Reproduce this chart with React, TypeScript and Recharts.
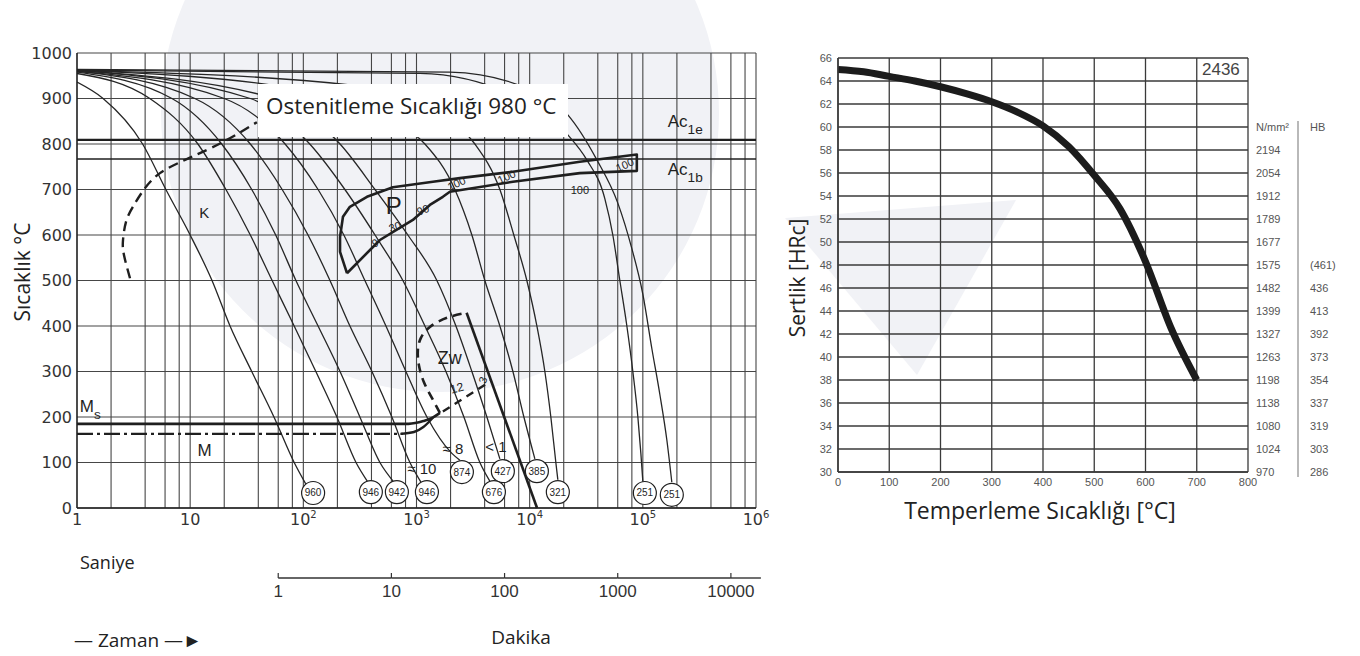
import React from "react";
import {
  ComposedChart,
  LineChart,
  Line,
  Scatter,
  XAxis,
  YAxis,
  CartesianGrid,
  ReferenceLine,
} from "recharts";

type Pt = { t: number; T: number };
const pts = (rows: number[][]): Pt[] => rows.map(([t, T]) => ({ t, T }));

// cooling curves, time [s] vs temperature [°C], named after the hardness at the end
const cool960 = pts([[1, 936], [1.7, 900], [3.8, 800], [6.1, 700], [10, 600], [15.6, 500], [22.5, 400], [35, 300], [55, 200], [83, 100], [105, 53]]);
const cool946a = pts([[1, 955], [4.4, 900], [11.7, 800], [20.7, 700], [34, 600], [53, 500], [83, 400], [129, 300], [198, 200], [292, 100], [372, 57]]);
const cool942 = pts([[1, 958], [6.9, 900], [19, 800], [35, 700], [57, 600], [86, 500], [135, 400], [211, 300], [316, 200], [475, 100], [631, 57]]);
const cool946b = pts([[1, 960], [11, 900], [34, 800], [65, 700], [110, 600], [172, 500], [258, 400], [404, 300], [606, 200], [875, 100], [1094, 57]]);
const cool874 = pts([[1, 960], [20, 900], [69, 800], [135, 700], [228, 600], [350, 500], [537, 400], [806, 300], [1236, 200], [2054, 120], [2417, 105]]);
const cool676 = pts([[1, 962], [34, 900], [114, 800], [233, 700], [430, 600], [758, 500], [1187, 400], [1820, 300], [2624, 200], [3631, 100], [4446, 59]]);
const cool427 = pts([[1, 962], [56, 900], [211, 800], [430, 700], [839, 600], [1514, 500], [2230, 400], [3086, 300], [4188, 200], [5454, 108]]);
const cool385 = pts([[1, 962], [93, 920], [582, 850], [1187, 800], [2183, 700], [3086, 600], [4018, 500], [5454, 400], [7112, 300], [8892, 200], [11117, 108]]);
const cool321 = pts([[1, 962], [258, 930], [1610, 860], [3281, 800], [5454, 700], [7244, 600], [9441, 500], [11584, 400], [13622, 300], [15387, 200], [17033, 100], [17740, 62]]);
const cool251a = pts([[1, 962], [1072, 955], [8187, 900], [21740, 820], [31990, 765], [46140, 680], [54300, 600], [62630, 500], [72250, 400], [81600, 300], [90380, 200], [96080, 120], [100000, 59]]);
const cool251b = pts([[1, 964], [1972, 958], [10040, 920], [21740, 864], [39260, 765], [60120, 670], [79980, 570], [100000, 470], [120200, 350], [141300, 250], [162900, 150], [180300, 57]]);
const coolingCurves = [cool960, cool946a, cool942, cool946b, cool874, cool676, cool427, cool385, cool321, cool251a, cool251b];

// transformation lines
const carbideStart = pts([[2.94, 505], [2.6, 556], [2.55, 589], [2.71, 629], [3.12, 662], [3.99, 703], [5.41, 736], [8.13, 760], [12.2, 780], [21.1, 809], [38.9, 848]]);
const pearlite = pts([[243, 516], [211, 563], [211, 596], [224, 640], [258, 662], [365, 684], [619, 705], [1396, 717], [2417, 725], [7112, 739], [27750, 761], [88500, 777], [88500, 741], [27750, 736], [7112, 717], [1972, 695], [1710, 684], [1313, 666], [929, 633], [475, 589], [243, 516]]);
const bainiteStart = pts([[1610, 209], [1368, 242], [1161, 277], [1050, 314], [1028, 347], [1094, 374], [1313, 398], [1857, 418], [2772, 429]]);
const bainiteEnd = pts([[2772, 429], [11620, 0]]);
const bainiteLow = pts([[1710, 212], [4600, 280]]);
const msLine = pts([[1, 185], [850, 185], [1150, 191], [1400, 199], [1610, 209]]);
const mLine = pts([[1, 163], [760, 163]]);
const mKnee = pts([[720, 163], [950, 167], [1150, 178], [1400, 199]]);
const ac1e = 809;
const ac1b = 767;

// hardness (HV) at the end of each cooling curve
const endHardness = ["960", "946", "942", "946", "874", "427", "676", "385", "321", "251", "251"];
const endTimes = [122, 395, 671, 1236, 2518, 5795, 4830, 11580, 17740, 104200, 180300];
const endTemps = [33, 35, 35, 35, 79, 81, 35, 81, 35, 33, 29];
const endRows = endHardness.map((v, i) => ({ t: endTimes[i], T: endTemps[i], v }));

type Note = { t: number; T: number; text: string; size: number; sub?: string; angle?: number; anchor?: "start" | "middle" };
const notes: Note[] = [
  { t: 13.3, T: 649, text: "K", size: 15 },
  { t: 631, T: 664, text: "P", size: 24 },
  { t: 645, T: 618, text: "30", size: 11, angle: -20 },
  { t: 430, T: 582, text: "9", size: 11, angle: -20 },
  { t: 1140, T: 655, text: "90", size: 11, angle: -20 },
  { t: 2260, T: 713, text: "100", size: 11, angle: -25 },
  { t: 6250, T: 728, text: "100", size: 11, angle: -25 },
  { t: 27750, T: 699, text: "100", size: 11 },
  { t: 69300, T: 754, text: "100", size: 11, angle: -25 },
  { t: 1972, T: 331, text: "Zw", size: 18 },
  { t: 2275, T: 264, text: "12", size: 12, angle: -15 },
  { t: 3860, T: 281, text: "3", size: 11, angle: -70 },
  { t: 2098, T: 130, text: "≈ 8", size: 15 },
  { t: 1116, T: 86, text: "≈ 10", size: 15 },
  { t: 5025, T: 134, text: "< 1", size: 15 },
  { t: 1.06, T: 224, text: "M", sub: "s", size: 17, anchor: "start" },
  { t: 13.4, T: 127, text: "M", size: 17 },
  { t: 166000, T: 850, text: "Ac", sub: "1e", size: 17, anchor: "start" },
  { t: 166000, T: 745, text: "Ac", sub: "1b", size: 17, anchor: "start" },
];

const secondTicks = [1, 10, 100, 1e3, 1e4, 1e5, 1e6];
const minuteTicks = [60, 600, 6000, 60000, 600000];
const minuteLabels = ["1", "10", "100", "1000", "10000"];
const tempTicks = [0, 100, 200, 300, 400, 500, 600, 700, 800, 900, 1000];
const gridTimes = [
  2, 4, 6, 8, 10, 20, 40, 60, 80, 100, 200, 400, 600, 800, 1e3, 2e3, 4e3, 6e3, 8e3,
  1e4, 2e4, 4e4, 6e4, 8e4, 1e5, 2e5, 4e5, 6e5, 8e5, 1e6,
];

// tempering curve
const temperTemps = [0, 50, 100, 150, 200, 250, 300, 350, 400, 450, 500, 550, 600, 650, 700];
const temperHrc = [65.0, 64.8, 64.4, 64.0, 63.5, 62.9, 62.2, 61.3, 60.1, 58.3, 55.8, 52.9, 48.3, 42.5, 38.0];
const temperRows = temperTemps.map((temp, i) => ({ temp, hrc: temperHrc[i] }));
const temperTicks = [0, 100, 200, 300, 400, 500, 600, 700, 800];
const hrcTicks = [30, 32, 34, 36, 38, 40, 42, 44, 46, 48, 50, 52, 54, 56, 58, 60, 62, 64, 66];
const tableLevels = [60, 58, 56, 54, 52, 50, 48, 46, 44, 42, 40, 38, 36, 34, 32, 30];
const strengthLabels = ["N/mm²", "2194", "2054", "1912", "1789", "1677", "1575", "1482", "1399", "1327", "1263", "1198", "1138", "1080", "1024", "970"];
const brinellLabels = ["HB", "", "", "", "", "", "(461)", "436", "413", "392", "373", "354", "337", "319", "303", "286"];

const INK = "#1f1f1f";
const GRID = "#464646";
const HAZE = "#f1f2f6";
const CCT_PLOT_W = 679;
const DECADE_PX = CCT_PLOT_W / 6;
const TEMPER_PLOT_H = 414;
const ROW_PX = (TEMPER_PLOT_H / (66 - 30)) * 2;

const SecondTick = ({ x, y, payload }: any) => {
  const v = payload.value as number;
  const exp = Math.round(Math.log10(v));
  return (
    <text x={x} y={y} dy="0.71em" textAnchor="middle" fontSize={16} fill="#333" fontFamily="DejaVu Sans">
      {exp <= 1 ? String(v) : (
        <>
          10<tspan dy={-7} fontSize={10}>{exp}</tspan>
        </>
      )}
    </text>
  );
};

const MinuteTick = ({ x, y, payload }: any) => {
  const i = minuteTicks.indexOf(payload.value);
  const len = i < minuteTicks.length - 1 ? DECADE_PX : 30;
  return (
    <g>
      <line x1={x} x2={x + len} y1={y} y2={y} stroke="#333" strokeWidth={1.4} />
      <line x1={x} x2={x} y1={y - 5} y2={y} stroke="#333" strokeWidth={1.2} />
      <text x={x} y={y + 7} dy="0.71em" textAnchor="middle" fontSize={17} fill="#333" fontFamily="Liberation Sans">
        {minuteLabels[i]}
      </text>
    </g>
  );
};

const EndCircle = ({ cx, cy, payload }: any) => (
  <g>
    <circle cx={cx} cy={cy} r={11.5} fill="#fff" stroke={INK} strokeWidth={1.2} />
    <text x={cx} y={cy} dy="0.35em" textAnchor="middle" fontSize={10} fill={INK} fontFamily="Liberation Sans Narrow, Liberation Sans">
      {payload.v}
    </text>
  </g>
);

const NoteMark = ({ cx, cy, payload }: any) => {
  const n = payload as Note;
  const rot = n.angle ? `rotate(${n.angle} ${cx} ${cy})` : undefined;
  return (
    <text x={cx} y={cy} dy="0.35em" textAnchor={n.anchor ?? "middle"} fontSize={n.size} fill={INK} fontFamily="Liberation Sans" transform={rot}>
      {n.text}
      {n.sub ? <tspan dy={n.size * 0.4} fontSize={n.size * 0.8}>{n.sub}</tspan> : null}
    </text>
  );
};

const HbTick = ({ x, y, payload }: any) => {
  const v = payload.value as number;
  const i = tableLevels.indexOf(v);
  return (
    <g>
      <line x1={x - 12} x2={x - 12} y1={v === 60 ? y - 6 : y} y2={v === 30 ? y + 5 : y + ROW_PX} stroke="#8a8a8a" strokeWidth={1.2} />
      <text x={x} y={y} dy="0.355em" textAnchor="start" fontSize={11} fill="#555" fontFamily="Liberation Sans">
        {brinellLabels[i]}
      </text>
    </g>
  );
};

const lineProps = { dot: false, activeDot: false, isAnimationActive: false, dataKey: "T" } as const;

const CctChart = () => (
  <ComposedChart width={800} height={640} margin={{ top: 53, right: 44, bottom: 22, left: 17 }}>
    <CartesianGrid vertical={false} stroke={GRID} strokeWidth={1.1} />
    {gridTimes.map((v) => (
      <ReferenceLine key={v} x={v} stroke={GRID} strokeWidth={1.1} />
    ))}
    <XAxis
      dataKey="t"
      type="number"
      scale="log"
      domain={[1, 1e6]}
      ticks={secondTicks}
      interval={0}
      allowDataOverflow
      height={70}
      tickSize={0}
      tickMargin={6}
      tickLine={false}
      axisLine={{ stroke: INK, strokeWidth: 1.6 }}
      tick={<SecondTick />}
    />
    <XAxis
      xAxisId="min"
      dataKey="t"
      type="number"
      scale="log"
      domain={[1, 1e6]}
      ticks={minuteTicks}
      interval={0}
      allowDataOverflow
      height={40}
      tickSize={0}
      tickMargin={0}
      tickLine={false}
      axisLine={false}
      tick={<MinuteTick />}
    />
    <YAxis
      dataKey="T"
      type="number"
      domain={[0, 1000]}
      ticks={tempTicks}
      interval={0}
      width={60}
      tickSize={0}
      tickMargin={5}
      tickLine={false}
      axisLine={{ stroke: INK, strokeWidth: 1.6 }}
      tick={{ fontSize: 16, fill: "#333", fontFamily: "DejaVu Sans" }}
    />
    <ReferenceLine y={ac1e} stroke={INK} strokeWidth={2.2} />
    <ReferenceLine y={ac1b} stroke={INK} strokeWidth={1.6} />
    {coolingCurves.map((c, i) => (
      <Line key={i} data={c} type="monotone" stroke="#262626" strokeWidth={1.3} {...lineProps} />
    ))}
    <Line data={carbideStart} type="natural" stroke={INK} strokeWidth={2.4} strokeDasharray="10 6" {...lineProps} />
    <Line data={pearlite} type="linear" stroke={INK} strokeWidth={2.6} strokeLinejoin="round" {...lineProps} />
    <Line data={bainiteStart} type="natural" stroke={INK} strokeWidth={2.6} strokeDasharray="9 6" {...lineProps} />
    <Line data={bainiteEnd} type="linear" stroke={INK} strokeWidth={2.6} {...lineProps} />
    <Line data={bainiteLow} type="linear" stroke={INK} strokeWidth={2.4} strokeDasharray="8 6" {...lineProps} />
    <Line data={msLine} type="monotone" stroke={INK} strokeWidth={2.6} {...lineProps} />
    <Line data={mLine} type="linear" stroke={INK} strokeWidth={2.4} strokeDasharray="16 4 3 4" {...lineProps} />
    <Line data={mKnee} type="monotone" stroke={INK} strokeWidth={2.4} {...lineProps} />
    <Scatter data={endRows} dataKey="T" shape={(p: any) => <EndCircle {...p} />} isAnimationActive={false} />
    <Scatter data={notes} dataKey="T" shape={(p: any) => <NoteMark {...p} />} isAnimationActive={false} />
  </ComposedChart>
);

const TemperChart = () => (
  <LineChart width={580} height={656} data={temperRows} margin={{ top: 58, right: 0, bottom: 144, left: 28 }}>
    <CartesianGrid stroke="#3a3a3a" strokeWidth={1.3} />
    <XAxis
      dataKey="temp"
      type="number"
      domain={[0, 800]}
      ticks={temperTicks}
      interval={0}
      height={40}
      tickSize={0}
      tickMargin={6}
      tickLine={false}
      axisLine={{ stroke: "#3a3a3a", strokeWidth: 1.5 }}
      tick={{ fontSize: 11, fill: "#555", fontFamily: "Liberation Sans" }}
    />
    <YAxis
      type="number"
      domain={[30, 66]}
      ticks={hrcTicks}
      interval={0}
      width={30}
      tickSize={0}
      tickMargin={6}
      tickLine={false}
      axisLine={{ stroke: "#3a3a3a", strokeWidth: 1.5 }}
      tick={{ fontSize: 11, fill: "#555", fontFamily: "Liberation Sans" }}
    />
    {/* strength column next to the grid, Brinell column outside it */}
    <YAxis
      yAxisId="r1"
      orientation="right"
      type="number"
      domain={[30, 66]}
      ticks={tableLevels}
      interval={0}
      allowDataOverflow
      width={54}
      tickSize={0}
      tickMargin={8}
      tickLine={false}
      axisLine={false}
      tickFormatter={(v: number) => strengthLabels[tableLevels.indexOf(v)]}
      tick={{ fontSize: 11, fill: "#555", fontFamily: "Liberation Sans" }}
    />
    <YAxis
      yAxisId="r2"
      orientation="right"
      type="number"
      domain={[30, 66]}
      ticks={tableLevels}
      interval={0}
      allowDataOverflow
      width={58}
      tickSize={0}
      tickMargin={8}
      tickLine={false}
      axisLine={false}
      tick={<HbTick />}
    />
    <Line dataKey="hrc" type="monotone" stroke="#1c1c1c" strokeWidth={7} dot={false} activeDot={false} isAnimationActive={false} />
  </LineChart>
);

const abs = (s: React.CSSProperties): React.CSSProperties => ({ position: "absolute", whiteSpace: "nowrap", ...s });

export default function App() {
  return (
    <div
      style={{
        position: "absolute",
        left: 0,
        top: 0,
        width: 1360,
        height: 656,
        background: "#fff",
        overflow: "hidden",
        fontFamily: "'Open Sans', sans-serif",
        color: "#222",
      }}
    >
      {/* faint backdrop shapes behind both charts */}
      <svg width={1360} height={656} style={{ position: "absolute", left: 0, top: 0 }}>
        <circle cx={440} cy={113} r={279} fill={HAZE} />
        <polygon points="917,375 785,218 1016,200" fill={HAZE} />
      </svg>
      <div style={abs({ left: 0, top: 0 })}>
        <CctChart />
      </div>
      <div style={abs({ left: 258, top: 84, width: 310, height: 53, background: "#fff", fontSize: 22.5, lineHeight: "43px", paddingLeft: 8, boxSizing: "border-box" })}>
        Ostenitleme Sıcaklığı 980 °C
      </div>
      <div style={abs({ left: 22, top: 272, fontSize: 21, transform: "translate(-50%, -50%) rotate(-90deg)" })}>Sıcaklık °C</div>
      <div style={abs({ left: 80, top: 550, fontSize: 18 })}>Saniye</div>
      <div style={abs({ left: 521, top: 624, fontSize: 19, transform: "translateX(-50%)" })}>Dakika</div>
      <div style={abs({ left: 74, top: 627, fontSize: 19 })}>— Zaman —►</div>

      <div style={abs({ left: 780, top: 0 })}>
        <TemperChart />
      </div>
      <div style={abs({ left: 1202, top: 60, fontSize: 17, color: "#444", fontFamily: "Liberation Sans" })}>2436</div>
      <div style={abs({ left: 797, top: 278, fontSize: 21, transform: "translate(-50%, -50%) rotate(-90deg)" })}>Sertlik [HRc]</div>
      <div style={abs({ left: 1040, top: 494, fontSize: 23, transform: "translateX(-50%)" })}>Temperleme Sıcaklığı [°C]</div>
    </div>
  );
}
